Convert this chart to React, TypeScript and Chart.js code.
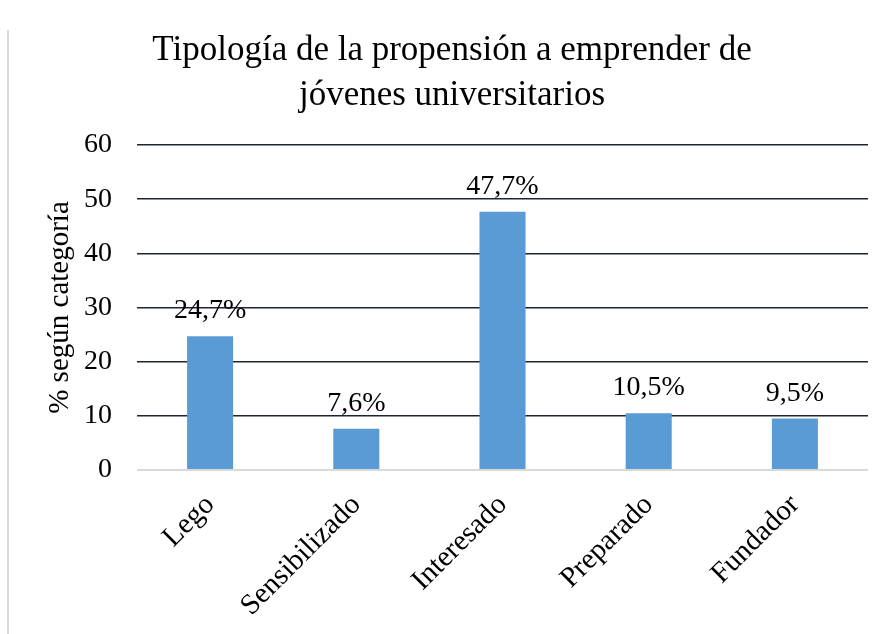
import React, { useEffect, useRef } from "react";
import { Chart, registerables } from "chart.js";

Chart.register(...registerables);

const categories = ["Lego", "Sensibilizado", "Interesado", "Preparado", "Fundador"];
const values = [24.7, 7.6, 47.7, 10.5, 9.5];
const valueLabels = ["24,7%", "7,6%", "47,7%", "10,5%", "9,5%"];
const titleLines = ["Tipología de la propensión a emprender de", "jóvenes universitarios"];
const yAxisTitle = "% según categoría";

const FONT = "'Liberation Serif', 'Times New Roman', serif";

const labelPlugin = {
  id: "barValueLabels",
  afterDatasetsDraw(chart: any) {
    const { ctx } = chart;
    const meta = chart.getDatasetMeta(0);
    ctx.save();
    ctx.font = `28px ${FONT}`;
    ctx.fillStyle = "#000";
    ctx.textAlign = "center";
    ctx.textBaseline = "alphabetic";
    meta.data.forEach((bar: any, i: number) => {
      ctx.fillText(valueLabels[i], bar.x, bar.y - 18);
    });
    ctx.restore();
  },
};

export default function App() {
  const ref = useRef<HTMLCanvasElement>(null);
  useEffect(() => {
    if (!ref.current) return;
    const chart = new Chart(ref.current, {
      type: "bar",
      data: {
        labels: categories,
        datasets: [
          {
            data: values,
            backgroundColor: "#5b9bd5",
            borderWidth: 0,
            barPercentage: 0.315,
            categoryPercentage: 1,
          },
        ],
      },
      options: {
        responsive: false,
        animation: false,
        layout: { padding: { left: 36, right: 21, top: 0, bottom: 0 } },
        plugins: {
          legend: { display: false },
          tooltip: { enabled: false },
          title: {
            display: true,
            text: titleLines,
            color: "#000",
            font: { family: FONT, size: 35, weight: "normal", lineHeight: 45 / 35 },
            padding: { top: 28.5, bottom: 26.5 },
          },
        },
        scales: {
          x: {
            grid: { display: false, drawTicks: false },
            border: { display: false },
            ticks: {
              color: "#000",
              font: { family: FONT, size: 29 },
              minRotation: 45,
              maxRotation: 45,
              padding: 18,
              autoSkip: false,
            },
            afterFit(scale: any) {
              scale.height = 634 - 470;
            },
          },
          y: {
            min: 0,
            max: 60,
            ticks: {
              stepSize: 10,
              color: "#000",
              font: { family: FONT, size: 28 },
              padding: 25,
            },
            grid: {
              drawTicks: false,
              color: (c: any) => (c.tick && c.tick.value === 0 ? "#d9d9d9" : "#1e2530"),
              lineWidth: (c: any) => (c.tick && c.tick.value === 0 ? 2 : 1.5),
            },
            border: { display: false },
            title: {
              display: true,
              text: yAxisTitle,
              color: "#000",
              font: { family: FONT, size: 29, lineHeight: 1.2 },
              padding: { top: 6.6, bottom: 0 },
            },
            afterFit(scale: any) {
              scale.width = 137 - 36;
            },
          },
        },
      },
      plugins: [labelPlugin],
    });
    return () => chart.destroy();
  }, []);

  return (
    <div style={{ position: "absolute", left: 0, top: 0, width: 889, height: 634, background: "#fff" }}>
      <div style={{ position: "absolute", left: 7, top: 30, width: 2, height: 604, background: "#d9d9d9" }} />
      <canvas ref={ref} width={889} height={634} style={{ position: "absolute", left: 0, top: 0 }} />
    </div>
  );
}
